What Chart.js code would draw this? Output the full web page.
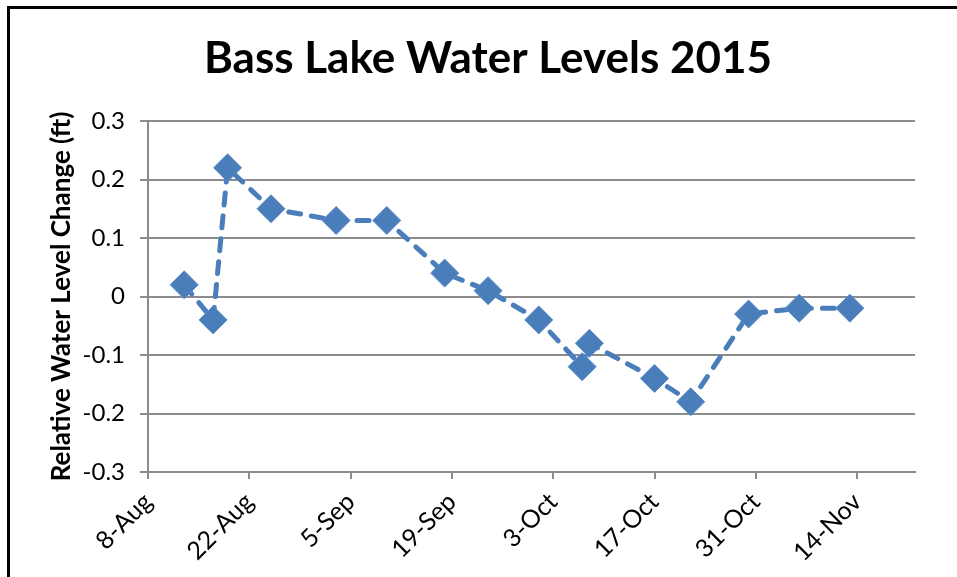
<!DOCTYPE html>
<html>
<head>
<meta charset="utf-8">
<script src="https://cdn.jsdelivr.net/npm/chart.js@4"></script>
<style>
  html, body { margin: 0; padding: 0; background: #fff; }
  #wrap { width: 957px; height: 577px; }
</style>
</head>
<body>
<div id="wrap"><canvas id="lakeChart" width="957" height="577"></canvas></div>
<script>
  // days since 8-Aug-2015
  const dayOffsets = [5, 9, 11, 17, 26, 33, 41, 47, 54, 60, 61, 70, 75, 83, 90, 97];
  const levels = [0.02, -0.04, 0.22, 0.15, 0.13, 0.13, 0.04, 0.01, -0.04, -0.12, -0.08, -0.14, -0.18, -0.03, -0.02, -0.02];
  const tickLabels = ['8-Aug', '22-Aug', '5-Sep', '19-Sep', '3-Oct', '17-Oct', '31-Oct', '14-Nov'];

  const frame = {
    id: 'frame',
    beforeDraw(chart) {
      const c = chart.ctx;
      c.save();
      c.fillStyle = '#fff';
      c.fillRect(0, 0, chart.width, chart.height);
      c.strokeStyle = '#000';
      c.lineWidth = 3;
      c.beginPath();
      c.moveTo(8.5, chart.height + 5);
      c.lineTo(8.5, 7.5);
      c.lineTo(chart.width + 5, 7.5);
      c.stroke();
      c.restore();
    }
  };

  const ctx = document.getElementById('lakeChart').getContext('2d');
  new Chart(ctx, {
    type: 'line',
    data: {
      datasets: [{
        label: 'Water level',
        data: dayOffsets.map((d, i) => ({ x: d, y: levels[i] })),
        borderColor: '#4a7ebb',
        backgroundColor: '#4a7ebb',
        borderWidth: 5,
        borderDash: [12, 11],
        borderCapStyle: 'round',
        pointStyle: 'rectRot',
        pointRadius: 14,
        pointBorderWidth: 1,
        pointBorderColor: '#5b8cc8',
        pointBackgroundColor: '#4a7ebb',
        tension: 0
      }]
    },
    options: {
      responsive: false,
      animation: false,
      layout: { padding: { left: 46, right: 27, top: 0, bottom: 0 } },
      plugins: {
        legend: { display: false },
        tooltip: { enabled: false },
        title: {
          display: true,
          text: 'Bass Lake Water Levels 2015',
          color: '#000',
          font: { family: 'Lato', size: 44, weight: 'bold', lineHeight: 1 },
          padding: { top: 37, bottom: 40 }
        }
      },
      scales: {
        x: {
          type: 'linear',
          min: 0,
          max: 106,
          afterBuildTicks: (scale) => {
            scale.ticks = tickLabels.map((l, i) => ({ value: i * 14 }));
          },
          afterFit: (scale) => { scale.height = 105; },
          ticks: {
            callback: (v) => tickLabels[Math.round(v / 14)],
            maxRotation: 45,
            minRotation: 45,
            color: '#000',
            padding: 8,
            font: { family: 'Lato', size: 25 }
          },
          grid: { drawOnChartArea: false, drawTicks: true, tickLength: 7, color: '#8c8c8c', lineWidth: 2 },
          border: { color: '#8c8c8c', width: 2 }
        },
        y: {
          min: -0.3,
          max: 0.3,
          afterFit: (scale) => { scale.width = 102; },
          ticks: {
            stepSize: 0.1,
            callback: (v) => String(Math.round(v * 10) / 10),
            color: '#000',
            padding: 15,
            font: { family: 'Lato', size: 24 }
          },
          grid: { color: '#8c8c8c', lineWidth: 2, tickLength: 8 },
          border: { color: '#8c8c8c', width: 2 },
          title: {
            display: true,
            text: 'Relative Water Level Change (ft)',
            color: '#000',
            font: { family: 'Lato', size: 26, weight: 'bold', lineHeight: 1.2 },
            padding: { top: 0, bottom: 0 }
          }
        },
        yRight: {
          position: 'right',
          min: -0.3,
          max: 0.3,
          afterFit: (scale) => { scale.width = 15; },
          ticks: { display: false },
          grid: { display: false },
          border: { display: false }
        }
      }
    },
    plugins: [frame]
  });
</script>
</body>
</html>
